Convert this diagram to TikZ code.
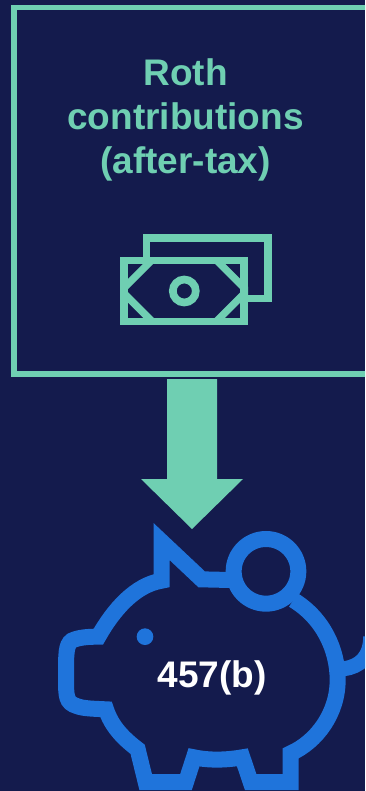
\documentclass[tikz,border=0pt]{standalone}
\usepackage{fontspec}
\setmainfont{Liberation Sans}
\definecolor{bgnavy}{HTML}{141B4D}
\definecolor{mint}{HTML}{6FCFB2}
\definecolor{pigblue}{HTML}{1F74DB}
\tikzset{
  mintline/.style={draw=mint,line width=5.5pt,miter limit=10},
  iconline/.style={draw=mint,line width=7.3pt},
  pigline/.style={draw=pigblue,line width=16pt,miter limit=10},
  lbl/.style={font=\fontsize{37}{44.2}\bfseries\selectfont,align=center,inner sep=0pt}
}
\begin{document}
\begin{tikzpicture}[x=1pt,y=-1pt]
\useasboundingbox (0,0) rectangle (365,791);
\clip (0,0) rectangle (365,791);
\fill[bgnavy] (0,0) rectangle (365,791);
% box, open at the right edge of the picture
\draw[mintline] (370,7.5) -- (14,7.5) -- (14,374) -- (370,374);
\node[lbl,text=mint] (title) at (185.5,120) {Roth\\contributions\\(after-tax)};
% money icon
\draw[iconline] (146.3,257) -- (146.3,238) -- (268,238) -- (268,298.5) -- (248,298.5);
\draw[iconline] (124,260.5) rectangle (244,321.5);
\begin{scope}
\clip (120,257) rectangle (248,325);
\draw[iconline] (151.3,260.7) -- (121.3,290.7) -- (151.3,320.7);
\draw[iconline] (217,260.7) -- (247,290.7) -- (217,320.7);
\end{scope}
\draw[draw=mint,line width=7.7pt] (184.3,291) circle (11.5);
% arrow
\fill[mint] (167,379) -- (217,379) -- (217,479) -- (243,479) -- (192,529) -- (141,479) -- (167,479) -- cycle;
% pig
\begin{scope}[shift={(40,510)}]
\begin{scope}[x=.33333pt,y=-.33333pt]
\draw[pigline] (678,184) circle (97);
\draw[pigline] (760,270) .. controls (850,325) and (893,420) .. (893,510)
  .. controls (893,610) and (830,695) .. (752,730) -- (752,816) -- (632,816) -- (607,742)
  .. controls (560,750) and (510,752) .. (462,742) -- (438,816) -- (317,816) -- (293,718)
  .. controls (250,685) and (215,650) .. (198,598)
  .. controls (160,596) and (130,596) .. (110,588)
  .. controls (78,578) and (78,560) .. (78,500)
  .. controls (78,430) and (78,405) .. (95,392)
  .. controls (115,382) and (145,380) .. (175,380)
  .. controls (220,300) and (285,225) .. (365,212)
  -- (365,95) -- (485,208) -- (570,210);
\draw[draw=pigblue,line width=15pt] (912,476) .. controls (960,470) and (992,440) .. (992,380);
\fill[pigblue] (315,380) circle (25);
\end{scope}
\end{scope}
\node[lbl,text=white,anchor=base] (plan) at (212.2,687.7) {457(b)};
\end{tikzpicture}
\end{document}
